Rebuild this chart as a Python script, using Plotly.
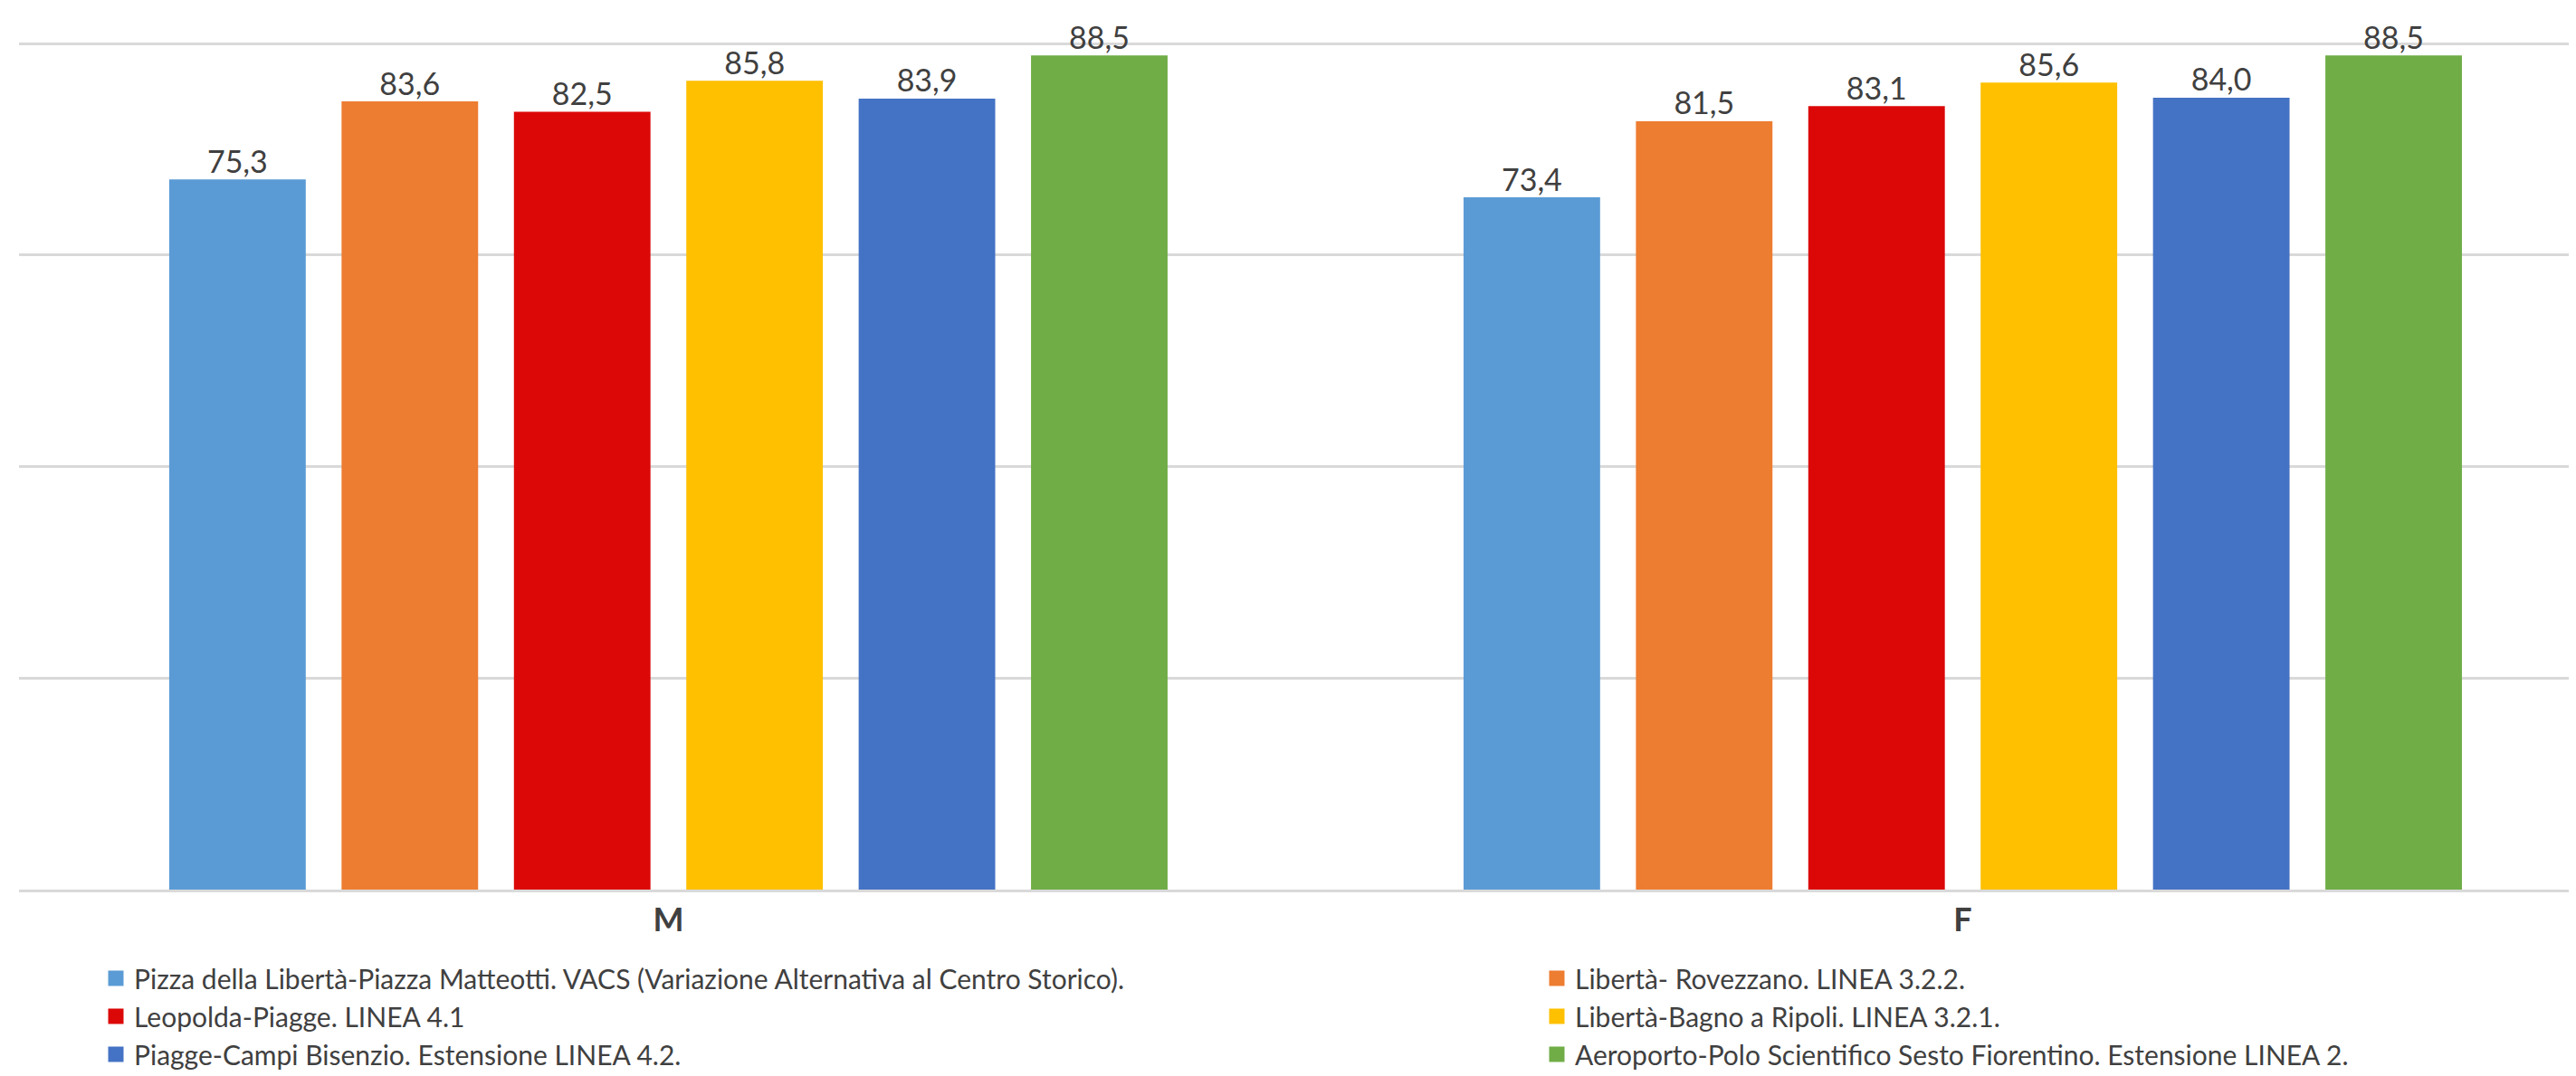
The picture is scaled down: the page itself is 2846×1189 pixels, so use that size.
import plotly.graph_objects as go

categories = ["M", "F"]
series_names = [
    "Pizza della Libertà-Piazza Matteotti. VACS (Variazione Alternativa al Centro Storico).",
    "Libertà- Rovezzano. LINEA 3.2.2.",
    "Leopolda-Piagge. LINEA 4.1",
    "Libertà-Bagno a Ripoli. LINEA 3.2.1.",
    "Piagge-Campi Bisenzio. Estensione LINEA 4.2.",
    "Aeroporto-Polo Scientifico Sesto Fiorentino. Estensione LINEA 2.",
]
values_pizza = [75.3, 73.4]
values_rovezzano = [83.6, 81.5]
values_leopolda = [82.5, 83.1]
values_bagno = [85.8, 85.6]
values_campi = [83.9, 84.0]
values_aeroporto = [88.5, 88.5]
series_values = [values_pizza, values_rovezzano, values_leopolda,
                 values_bagno, values_campi, values_aeroporto]
colors = ["#5B9BD5", "#ED7D31", "#DC0808", "#FFC000", "#4472C4", "#70AD47"]
legend_ids = ["legend", "legend2", "legend", "legend2", "legend", "legend2"]

FONT = "Lato"
TXT = "#404040"
# the page body adds an 8px offset, so the figure is 8px smaller
W, H = 2838, 1181
ML, MR, MT, MB = 13, 0, 38, 206
plot_w = W - ML - MR
plot_h = H - MT - MB

fig = go.Figure()
for name, vals, col, lg in zip(series_names, series_values, colors, legend_ids):
    fig.add_trace(go.Bar(
        x=categories, y=vals, name=name,
        marker=dict(color=col, line=dict(color=col, width=5)),
        texttemplate="%{y:.1f}", textposition="outside",
        textfont=dict(family=FONT, size=34, color=TXT),
        cliponaxis=False, legend=lg,
    ))

def px_x(pix):
    return (pix - ML) / plot_w

def px_y(pix):
    return (H - MB - pix) / plot_h

LEG_FONT = 30
fig.update_layout(
    width=W, height=H,
    margin=dict(l=ML, r=MR, t=MT, b=MB, autoexpand=False),
    paper_bgcolor="white", plot_bgcolor="white",
    separators=",.",
    barmode="group", bargap=0.201, bargroupgap=0.234,
    font=dict(family=FONT, color=TXT, size=LEG_FONT),
    xaxis=dict(
        range=[-0.5017, 1.4738], showgrid=False,
        showline=True, linecolor="#D9D9D9", linewidth=3,
        tickfont=dict(family=FONT, size=36, color=TXT, weight="bold"),
        ticks="",
    ),
    yaxis=dict(
        range=[0, 90.2], dtick=22.5, showgrid=True, gridcolor="#D9D9D9",
        gridwidth=3, showticklabels=False, zeroline=False, ticks="",
    ),
    legend=dict(
        x=px_x(100), xanchor="left",
        y=px_y(1047), yanchor="top",
        font=dict(family=FONT, size=LEG_FONT, color=TXT),
        bgcolor="rgba(0,0,0,0)", tracegroupgap=0,
    ),
    legend2=dict(
        x=px_x(1692), xanchor="left",
        y=px_y(1047), yanchor="top",
        font=dict(family=FONT, size=LEG_FONT, color=TXT),
        bgcolor="rgba(0,0,0,0)", tracegroupgap=0,
    ),
    showlegend=True,
)

fig.write_html("out.html")
